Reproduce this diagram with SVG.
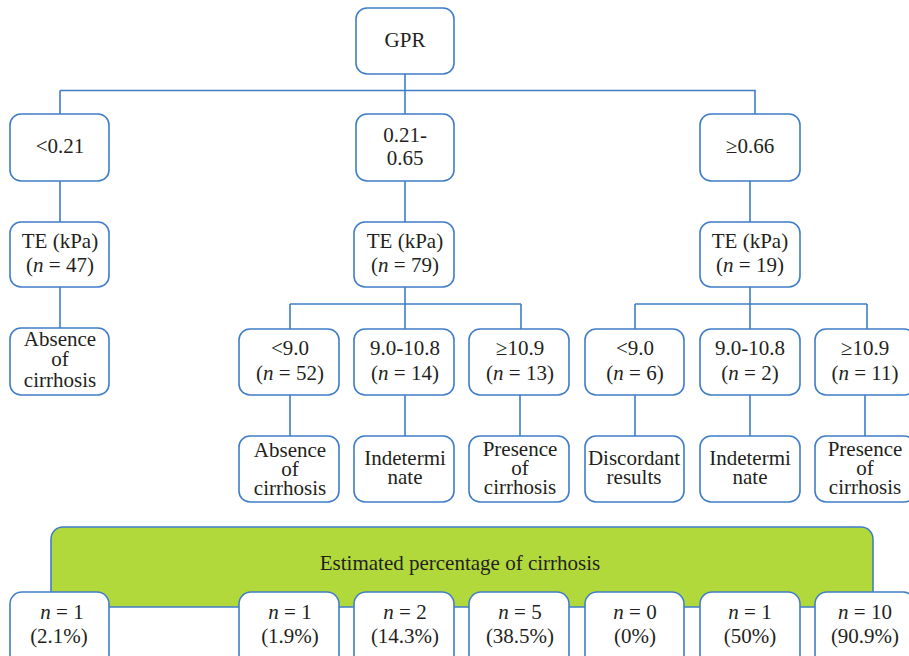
<svg xmlns="http://www.w3.org/2000/svg" width="909" height="656" viewBox="0 0 909 656" font-family="'Liberation Serif', 'Times New Roman', serif">
<style>
.b{fill:#fff;stroke:#3f7dc8;stroke-width:1.6}
.c{fill:none;stroke:#3f7dc8;stroke-width:1.6}
text{font-family:'Liberation Serif','Times New Roman',serif;font-size:21px;fill:#231f20;text-anchor:middle}
.i{font-style:italic}
</style>
<rect width="909" height="656" fill="#fff"/>
<g id="connectors" class="c">
<path d="M405 74V114M60 90.5H755V114M60 90.5V114"/>
<path d="M60 181V222M405 181V222M750 181V222"/>
<path d="M60 287V328"/>
<path d="M405 287V304M290 304H521M290 304V329M405 304V329M521 304V329"/>
<path d="M750 287V304M635 304H867M635 304V329M750 304V329M867 304V329"/>
<path d="M290 395V436M405 395V436M520 395V436M635 395V436M750 395V436M865 395V436"/>
</g>
<g id="gpr"><rect class="b" x="356" y="8" width="98" height="66" rx="11"/><text x="405" y="47">GPR</text></g>
<g id="g1"><rect class="b" x="10" y="114" width="99" height="67" rx="11"/><text x="60" y="153">&lt;0.21</text></g>
<g id="g2"><rect class="b" x="356" y="114" width="98" height="67" rx="11"/><text x="405" y="142">0.21-</text><text x="405" y="165">0.65</text></g>
<g id="g3"><rect class="b" x="700" y="114" width="100" height="67" rx="11"/><text x="750" y="153">≥0.66</text></g>
<g id="te1"><rect class="b" x="10" y="222" width="99" height="65" rx="11"/><text x="60" y="248">TE (kPa)</text><text x="60" y="272">(<tspan class="i">n</tspan> = 47)</text></g>
<g id="te2"><rect class="b" x="354" y="222" width="100" height="65" rx="11"/><text x="405" y="248">TE (kPa)</text><text x="405" y="272">(<tspan class="i">n</tspan> = 79)</text></g>
<g id="te3"><rect class="b" x="700" y="222" width="100" height="65" rx="11"/><text x="750" y="248">TE (kPa)</text><text x="750" y="272">(<tspan class="i">n</tspan> = 19)</text></g>
<g id="abs1"><rect class="b" x="10" y="328" width="99" height="67" rx="11"/><text x="60" y="346">Absence</text><text x="60" y="366">of</text><text x="60" y="387">cirrhosis</text></g>
<g id="m1"><rect class="b" x="239" y="329" width="100" height="66" rx="11"/><text x="290" y="355">&lt;9.0</text><text x="290" y="380">(<tspan class="i">n</tspan> = 52)</text></g>
<g id="m2"><rect class="b" x="354" y="329" width="100" height="66" rx="11"/><text x="405" y="355">9.0-10.8</text><text x="405" y="380">(<tspan class="i">n</tspan> = 14)</text></g>
<g id="m3"><rect class="b" x="469" y="329" width="100" height="66" rx="11"/><text x="520" y="355">≥10.9</text><text x="520" y="380">(<tspan class="i">n</tspan> = 13)</text></g>
<g id="r1"><rect class="b" x="585" y="329" width="99" height="66" rx="11"/><text x="635" y="355">&lt;9.0</text><text x="635" y="380">(<tspan class="i">n</tspan> = 6)</text></g>
<g id="r2"><rect class="b" x="700" y="329" width="100" height="66" rx="11"/><text x="750" y="355">9.0-10.8</text><text x="750" y="380">(<tspan class="i">n</tspan> = 2)</text></g>
<g id="r3"><rect class="b" x="815" y="329" width="100" height="66" rx="11"/><text x="865" y="355">≥10.9</text><text x="865" y="380">(<tspan class="i">n</tspan> = 11)</text></g>
<g id="o1"><rect class="b" x="239" y="436" width="100" height="66" rx="11"/><text x="290" y="457">Absence</text><text x="290" y="476">of</text><text x="290" y="495">cirrhosis</text></g>
<g id="o2"><rect class="b" x="354" y="436" width="100" height="66" rx="11"/><text x="405" y="465">Indetermi</text><text x="405" y="484">nate</text></g>
<g id="o3"><rect class="b" x="469" y="436" width="100" height="66" rx="11"/><text x="520" y="456">Presence</text><text x="520" y="475">of</text><text x="520" y="494">cirrhosis</text></g>
<g id="o4"><rect class="b" x="585" y="436" width="99" height="66" rx="11"/><text x="634" y="465">Discordant</text><text x="634" y="484">results</text></g>
<g id="o5"><rect class="b" x="700" y="436" width="100" height="66" rx="11"/><text x="750" y="465">Indetermi</text><text x="750" y="484">nate</text></g>
<g id="o6"><rect class="b" x="815" y="436" width="100" height="66" rx="11"/><text x="865" y="456">Presence</text><text x="865" y="475">of</text><text x="865" y="494">cirrhosis</text></g>
<g id="banner"><rect x="51" y="527" width="822" height="80" rx="12" fill="#b2d93c" stroke="#3f7dc8" stroke-width="1.6"/><text x="460" y="570">Estimated percentage of cirrhosis</text></g>
<g id="p1"><rect class="b" x="10" y="592" width="99" height="80" rx="12"/><text x="62" y="619"><tspan class="i">n</tspan> = 1</text><text x="59" y="643">(2.1%)</text></g>
<g id="p2"><rect class="b" x="239" y="592" width="100" height="80" rx="12"/><text x="290" y="619"><tspan class="i">n</tspan> = 1</text><text x="290" y="643">(1.9%)</text></g>
<g id="p3"><rect class="b" x="354" y="592" width="100" height="80" rx="12"/><text x="405" y="619"><tspan class="i">n</tspan> = 2</text><text x="405" y="643">(14.3%)</text></g>
<g id="p4"><rect class="b" x="469" y="592" width="100" height="80" rx="12"/><text x="520" y="619"><tspan class="i">n</tspan> = 5</text><text x="520" y="643">(38.5%)</text></g>
<g id="p5"><rect class="b" x="585" y="592" width="99" height="80" rx="12"/><text x="635" y="619"><tspan class="i">n</tspan> = 0</text><text x="635" y="643">(0%)</text></g>
<g id="p6"><rect class="b" x="700" y="592" width="100" height="80" rx="12"/><text x="750" y="619"><tspan class="i">n</tspan> = 1</text><text x="750" y="643">(50%)</text></g>
<g id="p7"><rect class="b" x="815" y="592" width="100" height="80" rx="12"/><text x="865" y="619"><tspan class="i">n</tspan> = 10</text><text x="865" y="643">(90.9%)</text></g>
</svg>
